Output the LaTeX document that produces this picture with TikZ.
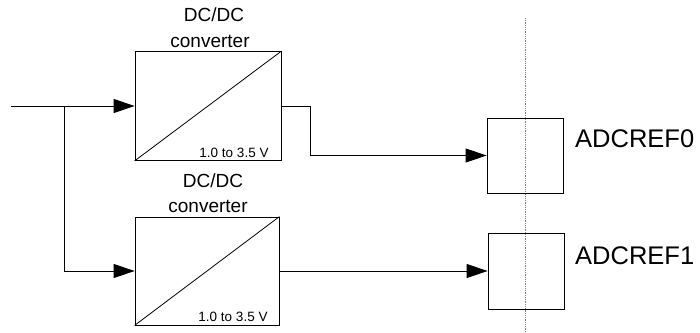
\documentclass[tikz,border=0pt]{standalone}
\usepackage{fontspec}
\setmainfont{Liberation Sans}
\usetikzlibrary{arrows.meta}
\begin{document}
\begin{tikzpicture}[x=1pt,y=-1pt,
  wire/.style={line width=0.8pt,black},
  arr/.style={wire,-{Triangle[length=21pt,width=14pt]}},
  conv/.style={draw,line width=0.8pt,minimum width=146pt,minimum height=109pt,inner sep=0pt},
  adc/.style={draw,line width=0.8pt,minimum width=76pt,minimum height=76pt,inner sep=0pt},
  lbl/.style={font=\fontsize{19}{21}\selectfont,anchor=base,inner sep=0pt},
  small/.style={font=\fontsize{13.5}{15}\selectfont,anchor=base,inner sep=0pt},
  big/.style={font=\fontsize{25.5}{28}\selectfont,anchor=base west,inner sep=0pt}]
\useasboundingbox (0,0) rectangle (700,332);
% dotted boundary
\coordinate (dtop) at (525,18);
\coordinate (dbot) at (525,332);
\draw[gray,line width=0.7pt,dash pattern=on 1pt off 0.8pt] (dtop) -- (dbot);
% converter boxes
\node[conv] (b1) at (208,106) {};
\node[conv,minimum width=144pt,minimum height=108pt] (b2) at (207,271) {};
\draw[wire] (b1.south west) -- (b1.north east);
\draw[wire] (b2.south west) -- (b2.north east);
\node[lbl] (t1a) at (214,21) {DC/DC};
\node[lbl] (t1b) at (210,47) {converter};
\node[lbl] (t2a) at (213,187) {DC/DC};
\node[lbl] (t2b) at (208,212) {converter};
\node[small] (v1) at (234,157) {1.0 to 3.5 V};
\node[small] (v2) at (233,321) {1.0 to 3.5 V};
% ADC boxes
\node[adc,minimum height=75pt] (a0) at (525,155.5) {};
\node[adc] (a1) at (526,271) {};
\node[big] (l0) at (575,147) {ADCREF0};
\node[big] (l1) at (575,264) {ADCREF1};
% input wires
\coordinate (in) at (11,106);
\coordinate (j) at (64,106);
\coordinate (jb) at (64,271);
\draw[arr] (in) -- (b1.west);
\draw[arr] (j) -- (jb) -- (b2.west);
% outputs
\coordinate (k1) at (310,106);
\coordinate (k2) at (310,155.5);
\draw[arr] (b1.east) -- (k1) -- (k2) -- (a0.west);
\draw[arr] (b2.east) -- (a1.west);
\end{tikzpicture}
\end{document}
